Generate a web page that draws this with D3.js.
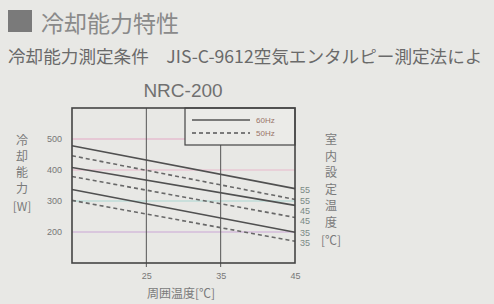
<!DOCTYPE html>
<html>
<head>
<meta charset="utf-8">
<script src="https://cdn.jsdelivr.net/npm/d3@7"></script>
<style>
  html, body { margin: 0; padding: 0; background: #e8e8e5; }
  svg { display: block; }
  text { font-family: "Liberation Sans", Arial, sans-serif; }
  .jp { font-family: "Noto Sans CJK JP", sans-serif; }
</style>
</head>
<body>
<svg id="chart" width="494" height="304"></svg>
<script>
(function() {

    // ambient temperature at the two ends of each line
    const ambientTemps = [15, 45];
    const xTicks = [25, 35, 45];
    const yTicks = [200, 300, 400, 500];

    // set room temperature / frequency pairs, top to bottom
    const setTemps = [55, 55, 45, 45, 35, 35];
    const freqs = ["60Hz", "50Hz", "60Hz", "50Hz", "60Hz", "50Hz"];
    const capacity = [
        [478, 340],
        [446, 305],
        [408, 286],
        [379, 247],
        [337, 199],
        [302, 170]
    ];
    const legendLabels = ["60Hz", "50Hz"];

    const svg = d3.select("#chart");

    // heading block
    svg.append("rect")
        .attr("x", 8).attr("y", 10)
        .attr("width", 24).attr("height", 22)
        .attr("fill", "#7a7a7a");
    svg.append("text").attr("class", "jp")
        .attr("x", 41).attr("y", 32)
        .attr("font-size", 23)
        .attr("fill", "#8a8a8a")
        .text("冷却能力特性");
    // the reference photo is cropped right after "によ"
    svg.append("text").attr("class", "jp")
        .attr("x", 8).attr("y", 63)
        .attr("font-size", 17.6)
        .attr("fill", "#6a6a6a")
        .text("冷却能力測定条件\u3000JIS-C-9612空気エンタルピー測定法によ");

    svg.append("text")
        .attr("x", 183).attr("y", 97)
        .attr("text-anchor", "middle")
        .attr("font-size", 19)
        .attr("fill", "#707070")
        .text("NRC-200");

    const left = 72, right = 295, top = 108, bottom = 263;
    const x = d3.scaleLinear().domain([15, 45]).range([left, right]);
    const y = d3.scaleLinear().domain([100, 600]).range([bottom, top]);

    const plot = svg.append("g");

    // faint coloured horizontal guides
    const gridColors = ["#c9a6d6", "#a9d6d2", "#e7b8cc", "#e4a8c6"];
    plot.selectAll("line.hgrid")
        .data(yTicks)
        .enter()
        .append("line")
        .attr("class", "hgrid")
        .attr("x1", left).attr("x2", right)
        .attr("y1", function(d) { return y(d); })
        .attr("y2", function(d) { return y(d); })
        .attr("stroke", function(d, i) { return gridColors[i]; })
        .attr("stroke-width", 1.2);

    // vertical guides
    plot.selectAll("line.vgrid")
        .data(xTicks.slice(0, 2))
        .enter()
        .append("line")
        .attr("class", "vgrid")
        .attr("x1", function(d) { return x(d); })
        .attr("x2", function(d) { return x(d); })
        .attr("y1", top).attr("y2", bottom + 4)
        .attr("stroke", "#555")
        .attr("stroke-width", 1);

    // capacity lines
    const line = d3.line()
        .x(function(d, i) { return x(ambientTemps[i]); })
        .y(function(d) { return y(d); });

    plot.selectAll("path.cap")
        .data(capacity)
        .enter()
        .append("path")
        .attr("class", "cap")
        .attr("d", line)
        .attr("fill", "none")
        .attr("stroke", function(d, i) { return freqs[i] == "60Hz" ? "#505050" : "#686868"; })
        .attr("stroke-width", 1.6)
        .attr("stroke-dasharray", function(d, i) { return freqs[i] == "60Hz" ? null : "4,3"; });

    // legend box (covers the grid underneath)
    const lg = svg.append("g");
    lg.append("rect")
        .attr("x", 185).attr("y", top)
        .attr("width", right - 185).attr("height", 37)
        .attr("fill", "#ebebe8")
        .attr("stroke", "#444")
        .attr("stroke-width", 1.2);
    legendLabels.forEach(function(lbl, i) {
        var ly = 120 + i * 13;
        lg.append("line")
            .attr("x1", 192).attr("x2", 250)
            .attr("y1", ly).attr("y2", ly)
            .attr("stroke", "#555")
            .attr("stroke-width", 1.6)
            .attr("stroke-dasharray", i == 0 ? null : "4,3");
        lg.append("text")
            .attr("x", 256).attr("y", ly + 3)
            .attr("font-size", 8)
            .attr("fill", "#9a7468")
            .text(lbl);
    });

    // frame
    svg.append("rect")
        .attr("x", left).attr("y", top)
        .attr("width", right - left).attr("height", bottom - top)
        .attr("fill", "none")
        .attr("stroke", "#444")
        .attr("stroke-width", 1.6);

    // axes
    const yAxis = d3.axisLeft(y).tickValues(yTicks).tickSize(0).tickPadding(10);
    const gy = svg.append("g").attr("transform", "translate(" + left + ",0)").call(yAxis);
    const xAxis = d3.axisBottom(x).tickValues(xTicks).tickSize(0).tickPadding(10);
    const gx = svg.append("g").attr("transform", "translate(0," + bottom + ")").call(xAxis);
    [gy, gx].forEach(function(g) {
        g.select(".domain").remove();
        g.selectAll("text")
            .attr("font-family", "Liberation Sans, Arial, sans-serif")
            .attr("font-size", 9)
            .attr("fill", "#777");
    });

    // set-temperature labels at line ends, nudged apart so they don't touch
    var labelY = [];
    capacity.forEach(function(d, i) {
        var ly = y(d[1]) + 1;
        if (i > 0 && ly - labelY[i - 1] < 10) ly = labelY[i - 1] + 10;
        labelY.push(ly);
    });
    svg.selectAll("text.setT")
        .data(capacity)
        .enter()
        .append("text")
        .attr("class", "setT")
        .attr("x", right + 5)
        .attr("y", function(d, i) { return labelY[i]; })
        .attr("dy", "0.35em")
        .attr("font-size", 9)
        .attr("fill", "#7a8a86")
        .text(function(d, i) { return setTemps[i]; });

    // vertical axis titles
    const yTitle = ["冷", "却", "能", "力", "[W]"];
    svg.selectAll("text.ytitle")
        .data(yTitle)
        .enter()
        .append("text")
        .attr("class", "jp ytitle")
        .attr("x", 22)
        .attr("y", function(d, i) { return 145 + i * 16 + (i == 4 ? 2 : 0); })
        .attr("text-anchor", "middle")
        .attr("font-size", 12)
        .attr("fill", "#7a7a7a")
        .text(function(d) { return d; });

    const rTitle = ["室", "内", "設", "定", "温", "度", "[℃]"];
    svg.selectAll("text.rtitle")
        .data(rTitle)
        .enter()
        .append("text")
        .attr("class", "jp rtitle")
        .attr("x", 331)
        .attr("y", function(d, i) { return 144 + i * 16.5 + (i == 6 ? 2 : 0); })
        .attr("text-anchor", "middle")
        .attr("font-size", 12)
        .attr("fill", "#7a7a7a")
        .text(function(d) { return d; });

    svg.append("text").attr("class", "jp")
        .attr("x", 181).attr("y", 298)
        .attr("text-anchor", "middle")
        .attr("font-size", 12)
        .attr("fill", "#7a7a7a")
        .text("周囲温度[℃]");

})();
</script>
</body>
</html>
